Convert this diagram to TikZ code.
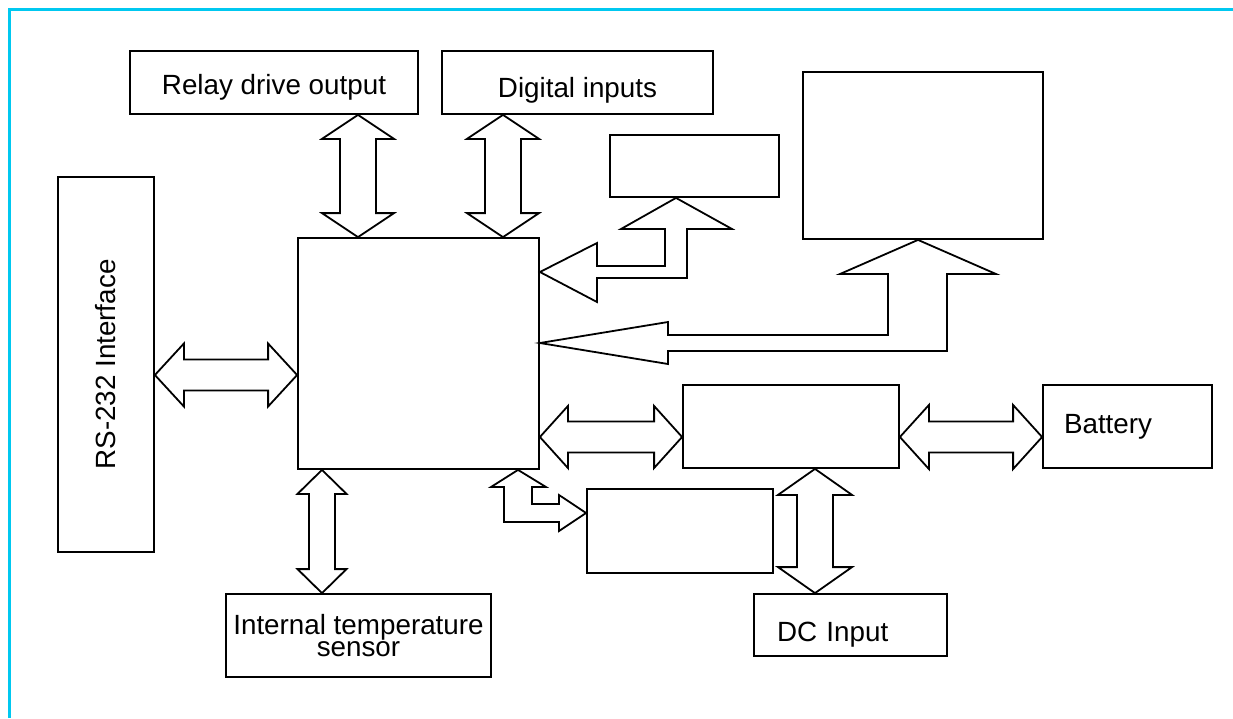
\documentclass[tikz,border=0pt]{standalone}
\usepackage{fontspec}
\setmainfont{Liberation Sans}
\usetikzlibrary{calc}

\definecolor{framecyan}{RGB}{0,200,240}

% hollow double block arrows between two end points
% #1 first end, #2 second end, #3 head half width, #4 shaft half width, #5 head length
\newcommand{\vbiarrow}[5]{%
  \draw[blockarrow] let \p1=(#1), \p2=(#2) in
    (\p1) -- (\x1+#3,\y1-#5) -- (\x1+#4,\y1-#5) -- (\x2+#4,\y2+#5) -- (\x2+#3,\y2+#5)
    -- (\p2) -- (\x2-#3,\y2+#5) -- (\x2-#4,\y2+#5) -- (\x1-#4,\y1-#5) -- (\x1-#3,\y1-#5) -- cycle;}
\newcommand{\hbiarrow}[5]{%
  \draw[blockarrow] let \p1=(#1), \p2=(#2) in
    (\p1) -- (\x1+#5,\y1+#3) -- (\x1+#5,\y1+#4) -- (\x2-#5,\y2+#4) -- (\x2-#5,\y2+#3)
    -- (\p2) -- (\x2-#5,\y2-#3) -- (\x2-#5,\y2-#4) -- (\x1+#5,\y1-#4) -- (\x1+#5,\y1-#3) -- cycle;}

\begin{document}
\begin{tikzpicture}[
  x=1pt, y=-1pt,
  box/.style={draw,line width=1.8pt,inner sep=0pt,font=\fontsize{27.8}{30}\selectfont},
  blockarrow/.style={draw,fill=white,line width=1.8pt,line join=miter}
]
  \useasboundingbox (0,0) rectangle (1233,718);
  \draw[framecyan,line width=3pt] (9,718) -- (9,9) -- (1233,9);

  % blocks
  \node[box,minimum width=288pt,minimum height=63pt,text height=29pt] (relay) at (274,82.5) {Relay drive output};
  \node[box,minimum width=271pt,minimum height=63pt,text height=35pt] (digital) at (577.5,82.5) {Digital inputs};
  \node[box,minimum width=169pt,minimum height=62pt] (smallbox) at (694.5,166) {};
  \node[box,minimum width=240pt,minimum height=167pt] (bigbox) at (923,155.5) {};
  \node[box,rotate=90,minimum width=375pt,minimum height=96pt] (rs) at (106,364.5) {RS-232 Interface};
  \node[box,minimum width=241pt,minimum height=231pt] (cpu) at (418.5,353.5) {};
  \node[box,minimum width=216pt,minimum height=83pt] (power) at (791,426.5) {};
  \node[box,minimum width=169pt,minimum height=83pt,text width=127pt,inner xsep=21pt,align=left] (battery) at (1127.5,426.5) {Battery};
  \node[box,minimum width=186pt,minimum height=84pt] (lowbox) at (680,531) {};
  \node[box,minimum width=265pt,minimum height=83pt,align=center,font=\fontsize{27.8}{19}\selectfont] (temp) at (358.5,635.5) {Internal temperature\\sensor};
  \node[box,minimum width=193pt,minimum height=62pt,text width=147pt,inner xsep=23pt,align=left,text height=38pt] (dc) at (850.5,625) {DC Input};

  % straight links
  \vbiarrow{358,0 |- relay.south}{358,0 |- cpu.north}{36pt}{18pt}{24pt}
  \vbiarrow{503,0 |- digital.south}{503,0 |- cpu.north}{36pt}{18pt}{24pt}
  \hbiarrow{rs.south |- 0,375}{cpu.west |- 0,375}{31.5pt}{15.5pt}{29pt}
  \hbiarrow{cpu.east |- 0,437}{power.west |- 0,437}{31pt}{15.5pt}{28pt}
  \hbiarrow{power.east |- 0,437}{battery.west |- 0,437}{32pt}{15.5pt}{29pt}
  \vbiarrow{815,0 |- power.south}{815,0 |- dc.north}{37pt}{18pt}{26pt}
  \vbiarrow{322,0 |- cpu.south}{322,0 |- temp.north}{24.5pt}{13pt}{24pt}

  % bent links
  \draw[blockarrow] (cpu.east |- 0,272) -- (597,243) -- (597,266) -- (665,266) -- (665,229)
    -- (621,229) -- (676,0 |- smallbox.south) -- (732,229) -- (687,229) -- (687,278)
    -- (597,278) -- (597,302) -- cycle;
  \draw[blockarrow] (cpu.east |- 0,343) -- (668,322) -- (668,335) -- (888,335) -- (888,274)
    -- (840,274) -- (918,0 |- bigbox.south) -- (996,274) -- (947,274) -- (947,351)
    -- (668,351) -- (668,364) -- cycle;
  \draw[blockarrow] (518,0 |- cpu.south) -- (546,487) -- (532,487) -- (532,504) -- (559,504)
    -- (559,495) -- (lowbox.west |- 0,513) -- (559,531) -- (559,522) -- (504,522)
    -- (504,487) -- (491,487) -- cycle;
\end{tikzpicture}
\end{document}
